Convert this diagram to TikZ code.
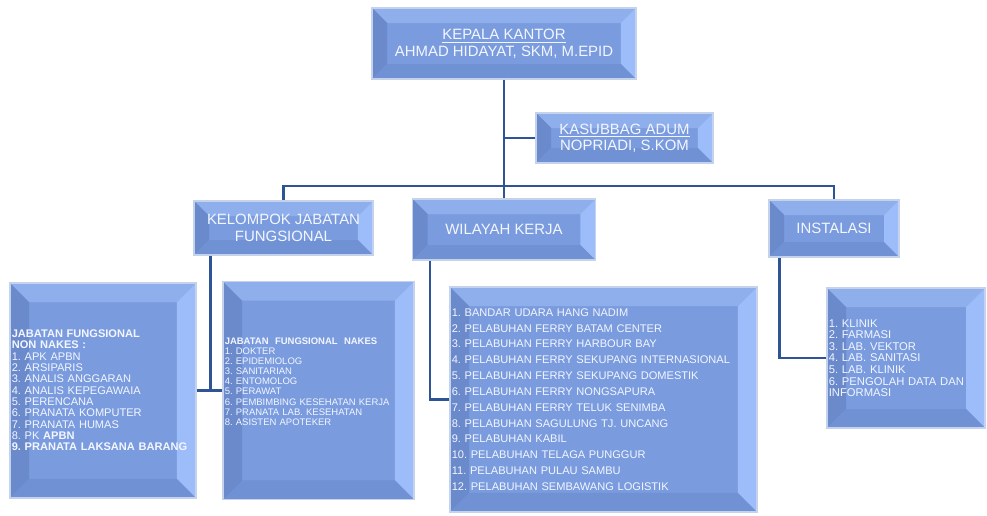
\documentclass[tikz,border=0pt]{standalone}
\usepackage{fontspec}
\setmainfont{Liberation Sans}
\usepackage{tikz}
\usetikzlibrary{calc,positioning}
\frenchspacing

\definecolor{bvface}{RGB}{122,156,222}
\definecolor{bvtop}{RGB}{142,174,236}
\definecolor{bvleft}{RGB}{106,138,204}
\definecolor{bvright}{RGB}{156,189,250}
\definecolor{bvbottom}{RGB}{112,145,212}
\definecolor{bvrim}{RGB}{196,210,236}
\definecolor{bvtext}{RGB}{243,246,255}
\definecolor{linkblue}{RGB}{47,84,150}

\begin{document}
\begin{tikzpicture}[x=0.02cm,y=-0.02cm,
  bevel/.style={fill=bvface,draw=bvrim,line width=0.8pt,
    path picture={
      \coordinate (bsw) at (path picture bounding box.south west);
      \coordinate (bse) at (path picture bounding box.south east);
      \coordinate (bnw) at (path picture bounding box.north west);
      \coordinate (bne) at (path picture bounding box.north east);
      \coordinate (isw) at ([shift={(#1,#1)}]bsw);
      \coordinate (ise) at ([shift={(-#1,#1)}]bse);
      \coordinate (inw) at ([shift={(#1,-#1)}]bnw);
      \coordinate (ine) at ([shift={(-#1,-#1)}]bne);
      \fill[bvtop] (bnw) -- (bne) -- (ine) -- (inw) -- cycle;
      \fill[bvleft] (bnw) -- (inw) -- (isw) -- (bsw) -- cycle;
      \fill[bvright] (bne) -- (bse) -- (ise) -- (ine) -- cycle;
      \fill[bvbottom] (bsw) -- (isw) -- (ise) -- (bse) -- cycle;
    }},
  bevel/.default=0.3cm,
  head/.style={bevel,text=bvtext,align=center,
               font=\fontsize{8.5}{9.4}\selectfont},
  list/.style={bevel=0.38cm,text=bvtext,align=left,inner xsep=1pt},
  link/.style={draw=linkblue,line width=1.4pt}]

\useasboundingbox (0,0) rectangle (987,515);

% top of the chart
\node[head,minimum width=5.28cm,minimum height=1.42cm] (kepala) at (504,43.5)
  {\underline{KEPALA KANTOR}\\AHMAD HIDAYAT, SKM, M.EPID};
\node[head,minimum width=3.54cm,minimum height=1cm] (kasubbag) at (624.5,138)
  {\underline{KASUBBAG ADUM}\\NOPRIADI, S.KOM};

% second row
\node[head,minimum width=3.58cm,minimum height=1.08cm] (kelompok) at (283.5,228)
  {KELOMPOK JABATAN\\FUNGSIONAL};
\node[head,minimum width=3.66cm,minimum height=1.22cm] (wilayah) at (504,229.5)
  {WILAYAH KERJA};
\node[head,minimum width=2.6cm,minimum height=1.14cm] (instalasi) at (834,228.5)
  {INSTALASI};

% lists
\node[list,text width=3.65cm,minimum height=4.3cm,
      font=\fontsize{6.3}{6.45}\selectfont] (nonnakes) at (103,390.5)
  {\textbf{JABATAN FUNGSIONAL}\\\textbf{NON NAKES :}\\
   1. APK APBN\\2. ARSIPARIS\\3. ANALIS ANGGARAN\\4. ANALIS KEPEGAWAIA\\
   5. PERENCANA\\6. PRANATA KOMPUTER\\7. PRANATA HUMAS\\8. PK \textbf{APBN}\\
   \textbf{9. PRANATA LAKSANA BARANG}};
\node[list,text width=3.75cm,minimum height=4.36cm,
      font=\fontsize{5.4}{5.8}\selectfont] (nakes) at (318.5,390.5)
  {\textbf{JABATAN\ \ FUNGSIONAL\ \ NAKES}\\
   1. DOKTER\\2. EPIDEMIOLOG\\3. SANITARIAN\\4. ENTOMOLOG\\5. PERAWAT\\
   6. PEMBIMBING KESEHATAN KERJA\\7. PRANATA LAB. KESEHATAN\\8. ASISTEN APOTEKER
   \par\vspace{0.36cm}};
\node[list,text width=6.07cm,minimum height=4.5cm,
      font=\fontsize{6.3}{9}\selectfont] (wilayahlist) at (603.5,399.5)
  {1. BANDAR UDARA HANG NADIM\\2. PELABUHAN FERRY BATAM CENTER\\
   3. PELABUHAN FERRY HARBOUR BAY\\4. PELABUHAN FERRY SEKUPANG INTERNASIONAL\\
   5. PELABUHAN FERRY SEKUPANG DOMESTIK\\6. PELABUHAN FERRY NONGSAPURA\\
   7. PELABUHAN FERRY TELUK SENIMBA\\8. PELABUHAN SAGULUNG TJ. UNCANG\\
   9. PELABUHAN KABIL\\10. PELABUHAN TELAGA PUNGGUR\\
   11. PELABUHAN PULAU SAMBU\\12. PELABUHAN SEMBAWANG LOGISTIK};
\node[list,text width=3.09cm,minimum height=2.8cm,
      font=\fontsize{6.4}{6.6}\selectfont] (instlist) at (906,358)
  {1. KLINIK\\2. FARMASI\\3. LAB. VEKTOR\\4. LAB. SANITASI\\5. LAB. KLINIK\\
   6. PENGOLAH DATA DAN\\INFORMASI};

% connectors
\coordinate (bus) at (504,186);
\draw[link] (kepala.south) -- (wilayah.north);
\draw[link] (kepala.south |- kasubbag.west) -- (kasubbag.west);
\draw[link] (kelompok.north) |- (bus) -| (instalasi.north);
\draw[link] ([xshift=0.34cm]kelompok.south west) |- (nonnakes.east);
\draw[link] (nonnakes.east) -- (nakes.west);
\draw[link] ([xshift=0.36cm]wilayah.south west) |- (wilayahlist.west);
\draw[link] ([xshift=0.22cm]instalasi.south west) |- (instlist.west);
\end{tikzpicture}
\end{document}
